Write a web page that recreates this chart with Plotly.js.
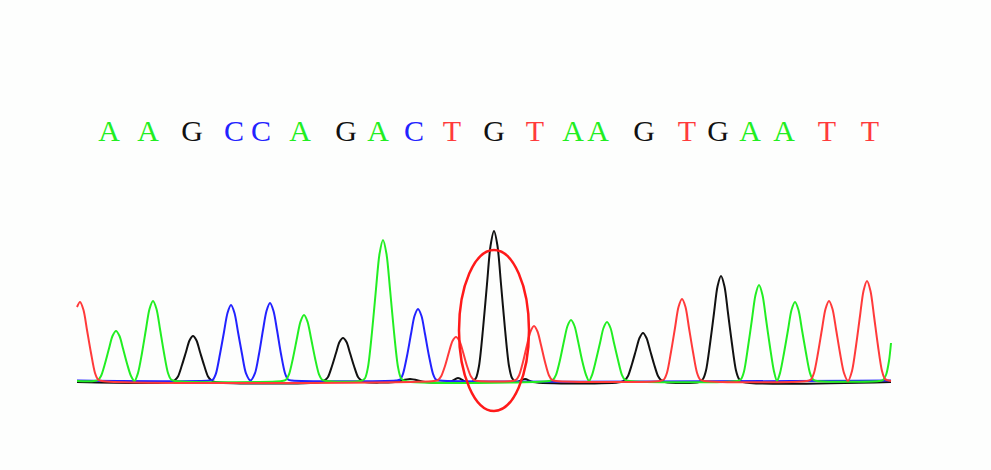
<!DOCTYPE html>
<html>
<head>
<meta charset="utf-8">
<script src="https://cdn.plot.ly/plotly-3.0.1.min.js"></script>
<style>html,body{margin:0;padding:0;background:#fdfefd;}#chart{width:991px;height:470px;}</style>
</head>
<body>
<div id="chart"></div>
<script>
// Base calls
var baseLetters = ["A","A","G","C","C","A","G","A","C","T","G","T","A","A","G","T","G","A","A","T","T"];
var basePositions = [109,148,192,234,261,300,346,378,414,452,494,535,573,598,644,687,718,750,784,827,870];
var baseLabelLevel = 248;

// Trace samples (scan position, signal)
var blackX = [77,171,175,178,182,186,189.5,193,196.5,200,204,208,211,215,
  321,325,328,332,336,339.5,343,346.5,350,354,358,361,365,
  395,410,425,450,458,466,
  472,476,479,483,487,490.5,494,497.5,501,505,509,512,516,525,533,
  621,625,628,632,636,639.5,643,646.5,650,654,658,661,665,
  699,703,706,710,714,717.5,721,724.5,728,732,736,739,743,891];
var blackY = [-1,-1,1,4.5,16,29,40.5,45,40.5,29,16,4.5,1,-1,
  -1,1,4,15,28,39,43,39,28,15,4,1,-1,
  -1,2,-1,-1,3,-1,
  -1,3,15,52,97,135,150,135,97,52,15,3,-1,2,-1,
  -1,1,5,17,31,43,48,43,31,17,5,1,-1,
  -1,2,10.5,37,68,94.5,105,94.5,68,37,10.5,2,-1,-1];

var blueX = [77,209,213,216,220,224,227.5,231,234.5,238,242,246,250.5,255,259,263,266.5,270,273.5,277,281,285,288,292,
  396,400,403,407,411,414.5,418,421.5,425,429,433,436,440,891];
var blueY = [0.5,0.5,1.5,7.6,27,49,68,76,68,49,27,7.6,0.5,7.8,27,51,70,78,70,51,27,7.8,1.6,0.5,
  0.5,1.4,7.2,25,47,65,72,65,47,25,7.2,1.4,0.5,0.5];

var greenX = [77,94,98,101,105,109,112.5,116,119.5,123,127,131,134.5,138,142,146,149.5,153,156.5,160,164,168,171,175,
  282,286,289,293,297,300.5,304,307.5,311,315,319,322,326,
  361,365,368,372,376,379.5,383,386.5,390,394,398,401,405,
  549,553,556,560,564,567.5,571,574.5,578,582,586,589,592,596,600,603.5,607,610.5,614,618,622,625,629,
  737,741,744,748,752,755.5,759,762.5,766,770,774,777,780,784,788,791.5,795,798.5,802,806,810,813,817,
  879,883,886,889,891];
var greenY = [0,0,1,5,17.5,32.5,45,50,45,32.5,17.5,5,0,8,28,52,72,80,72,52,28,8,1.6,0,
  0,1.3,6.6,23,43,59.4,66,59.4,43,23,6.6,1.3,0,
  0,2.8,14,49,92,127,141,127,92,49,14,2.8,0,
  0,1.2,6.1,21,40,55,61,55,40,21,6.1,0,5.9,21,38,53,59,53,38,21,5.9,1.2,0,
  0,1.9,9.6,34,62,86,96,86,62,34,9.6,0,7.9,28,51,71,79,71,51,28,7.9,1.6,0,
  0,1,6,20,38];

var redX = [77,80,83.5,87,91,95,98,102,
  434,438,441,445,449,452.5,456,459.5,463,467,471,474,478,
  512,516,519,523,527,530.5,534,537.5,541,545,549,552,556,
  660,664,667,671,675,678.5,682,685.5,689,693,697,700,704,
  807,811,814,818,822,825.5,829,832.5,836,840,844,848,852,856,860,863.5,867,870.5,874,878,882,885,891];
var redY = [74,79,71,51,28,8,1.6,0,
  0,0.9,4.4,15,29,40,44,40,29,15,4.4,0.9,0,
  0,1.1,5.5,19,36,49.5,55,49.5,36,19,5.5,1.1,0,
  0,1.6,8.2,29,53,74,82,74,53,29,8.2,1.6,0,
  0,1.6,8,28,52,72,80,72,52,28,8,0,10,35,65,90,100,90,65,35,10,2,0];

// Highlight ellipse around the ambiguous peak
var highlightX = [459,529];
var highlightY = [-30,131];

var baseColors = {A:"#22ee22", C:"#2222ff", G:"#111111", T:"#ff3a3a"};

function trace(x, y, color) {
  return {x:x, y:y, type:"scatter", mode:"lines", hoverinfo:"skip",
          line:{color:color, width:2, shape:"spline", smoothing:0.8}};
}

var data = [
  trace(blackX, blackY, "#111111"),
  trace(blueX, blueY, "#2222ff"),
  trace(greenX, greenY, "#22ee22"),
  trace(redX, redY, "#ff3a3a"),
  {x: basePositions, y: basePositions.map(function(){return baseLabelLevel;}),
   text: baseLetters, type:"scatter", mode:"text", hoverinfo:"skip",
   textposition:"middle center",
   textfont:{family:"'Liberation Serif', serif", size:30,
             color: baseLetters.map(function(b){return baseColors[b];})}}
];

var layout = {
  width:991, height:470,
  margin:{l:0,r:0,t:0,b:0},
  paper_bgcolor:"#fdfefd", plot_bgcolor:"#fdfefd",
  showlegend:false,
  xaxis:{range:[0,991], visible:false, fixedrange:true},
  yaxis:{range:[-89,381], visible:false, fixedrange:true},
  shapes:[{type:"circle", xref:"x", yref:"y",
           x0:highlightX[0], x1:highlightX[1], y0:highlightY[0], y1:highlightY[1],
           line:{color:"#ff1a1a", width:2.5}}]
};

Plotly.newPlot("chart", data, layout, {staticPlot:true, displayModeBar:false});
</script>
</body>
</html>
